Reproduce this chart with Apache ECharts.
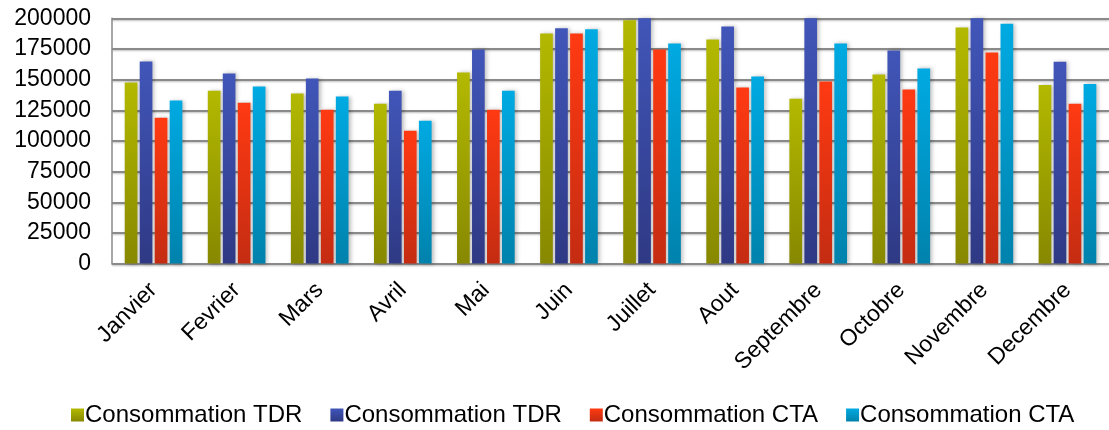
<!DOCTYPE html>
<html>
<head>
<meta charset="utf-8">
<script src="https://cdn.jsdelivr.net/npm/echarts@6/dist/echarts.min.js"></script>
<style>html,body{margin:0;padding:0;background:#fff;}#c{width:1109px;height:430px;}</style>
</head>
<body>
<div id="c"></div>
<script>
const months = ['Janvier','Fevrier','Mars','Avril','Mai','Juin','Juillet','Aout','Septembre','Octobre','Novembre','Decembre'];
const tdrA = [147600,141000,138600,130400,155800,187700,198400,182800,134500,154200,192400,145600];
const tdrB = [164800,155000,150900,141000,174600,191800,205000,193400,205000,173800,205000,164600];
const ctaA = [119000,131200,125500,108300,125500,187700,174600,143500,148400,141900,172100,130300];
const ctaB = [132900,144300,136200,116500,141000,191000,179500,152500,179500,159100,195600,146500];
const seriesNames = ['Consommation TDR','Consommation TDR','Consommation CTA','Consommation CTA'];
const yTicks = {min:0, max:200000, interval:25000};

const palettes = [
  ['#b3b900','#878800'],
  ['#4156b9','#2f3984'],
  ['#ff3a12','#c42c12'],
  ['#00aae2','#0082ac']
];
function grad(p){
  return new echarts.graphic.LinearGradient(0,0,0,1,[{offset:0,color:p[0]},{offset:1,color:p[1]}]);
}
const datasets = [tdrA,tdrB,ctaA,ctaB];
const font = 'Liberation Sans, Arial, sans-serif';
const chart = echarts.init(document.getElementById('c'));
chart.setOption({
  animation:false,
  backgroundColor:'#fff',
  grid:{left:112, top:18.3, width:1005, height:245.3, containLabel:false},
  xAxis:{
    type:'category', data:months,
    axisLine:{lineStyle:{color:'#8a8a8a', width:1.5}},
    axisTick:{show:false},
    axisLabel:{rotate:45, color:'#000', fontSize:23, fontFamily:font, margin:23, interval:0}
  },
  yAxis:{
    type:'value', min:yTicks.min, max:yTicks.max, interval:yTicks.interval,
    axisLine:{show:true, lineStyle:{color:'#8a8a8a', width:1.5}},
    axisTick:{show:false},
    axisLabel:{color:'#000', fontSize:23, fontFamily:font, margin:21, formatter:v=>String(v)},
    splitLine:{lineStyle:{color:'#8a8a8a', width:2, shadowColor:'rgba(0,0,0,0.25)', shadowBlur:2, shadowOffsetY:1}}
  },
  legend:{
    bottom:-2, left:66, itemWidth:13, itemHeight:13, itemGap:28,
    icon:'rect',
    textStyle:{color:'#000', fontSize:24, fontFamily:font, padding:[0,0,0,-4]},
    data:seriesNames.map((n,i)=>({name:n+'#'+i})),
    formatter:function(n){return n.replace(/#\d$/,'');}
  },
  series:datasets.map((d,i)=>({
    name:seriesNames[i]+'#'+i,
    type:'bar',
    data:d,
    clip:true,
    barWidth:12.7,
    barGap:'18%',
    barCategoryGap:'31%',
    itemStyle:{color:grad(palettes[i]), shadowColor:'rgba(0,0,0,0.25)', shadowBlur:4, shadowOffsetX:2}
  }))
});
</script>
</body>
</html>
